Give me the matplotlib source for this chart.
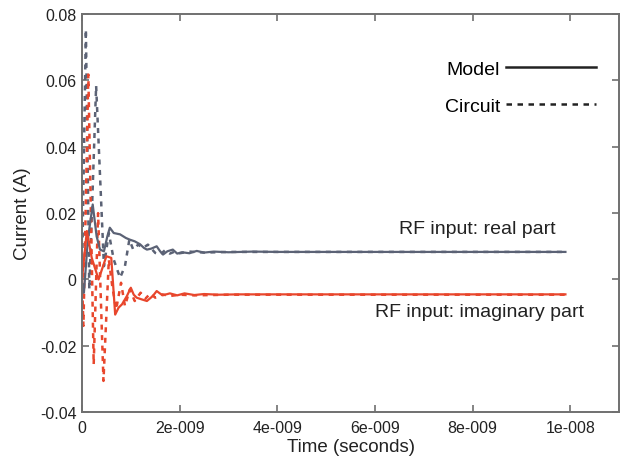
import numpy as np
import matplotlib
matplotlib.use("Agg")
import matplotlib.pyplot as plt

# time axis in ns, currents in A
t_model_real = [0.0, 0.04, 0.12, 0.22, 0.30, 0.37, 0.45, 0.52, 0.57, 0.65, 0.78, 0.90, 0.98, 1.08,
                1.19, 1.27, 1.33, 1.42, 1.53, 1.60, 1.66, 1.75, 1.86, 1.95, 2.05, 2.20, 2.35, 2.50,
                2.70, 3.00, 3.50, 4.00, 5.00, 6.00, 7.00, 8.00, 9.00, 9.90]
i_model_real = [-0.001, -0.004, 0.012, 0.0226, 0.013, 0.009, 0.0085, 0.013, 0.0156, 0.014, 0.0136,
                0.0125, 0.012, 0.0115, 0.0106, 0.0095, 0.009, 0.0093, 0.010, 0.0085, 0.0075, 0.0085,
                0.009, 0.0078, 0.0082, 0.0079, 0.0086, 0.0081, 0.0084, 0.0082, 0.0084, 0.0083,
                0.0083, 0.0083, 0.0083, 0.0083, 0.0083, 0.0083]

t_circ_real = [0.0, 0.08, 0.15, 0.29, 0.45, 0.55, 0.65, 0.78, 0.88, 0.97, 1.05, 1.15, 1.25, 1.35,
               1.50, 1.60, 1.70, 1.80, 1.90, 2.00, 2.20, 2.50, 3.00, 4.00, 6.00, 8.00, 9.90]
i_circ_real = [0.0, 0.0754, -0.003, 0.0584, 0.004, 0.014, 0.006, 0.0005, 0.004, 0.012, 0.009,
               0.0105, 0.0095, 0.0105, 0.008, 0.0075, 0.0088, 0.0078, 0.0084, 0.0079, 0.0084,
               0.0081, 0.0083, 0.0083, 0.0083, 0.0083, 0.0083]

t_model_imag = [0.0, 0.10, 0.20, 0.34, 0.50, 0.60, 0.68, 0.75, 0.82, 0.92, 1.00, 1.06, 1.12, 1.22,
                1.33, 1.45, 1.53, 1.65, 1.80, 1.95, 2.10, 2.30, 2.50, 2.80, 3.20, 4.00, 6.00,
                8.00, 9.90]
i_model_imag = [0.0, 0.0146, 0.0065, 0.0, 0.007, 0.0065, -0.0106, -0.0085, -0.0075, -0.005,
                -0.0025, -0.0046, -0.0055, -0.006, -0.0065, -0.005, -0.0035, -0.0048, -0.0042,
                -0.0048, -0.0042, -0.0047, -0.0044, -0.0046, -0.0045, -0.0045, -0.0045,
                -0.0045, -0.0045]

t_circ_imag = [0.0, 0.03, 0.13, 0.24, 0.33, 0.44, 0.55, 0.62, 0.70, 0.80, 0.88, 0.98, 1.08, 1.20,
               1.30, 1.40, 1.50, 1.65, 1.80, 2.00, 2.30, 3.00, 4.00, 6.00, 8.00, 9.90]
i_circ_imag = [0.0, -0.014, 0.0618, -0.0256, 0.02, -0.0306, 0.006, -0.002, -0.009, -0.001,
               -0.008, -0.003, -0.0065, -0.004, -0.0058, -0.0042, -0.0055, -0.0045, -0.005,
               -0.0046, -0.0048, -0.0046, -0.0046, -0.0046, -0.0046, -0.0046]

x_ticks = [0, 2e-9, 4e-9, 6e-9, 8e-9, 1e-8]
x_labels = ["0", "2e-009", "4e-009", "6e-009", "8e-009", "1e-008"]
y_ticks = [-0.04, -0.02, 0, 0.02, 0.04, 0.06, 0.08]
y_labels = ["-0.04", "-0.02", "0", "0.02", "0.04", "0.06", "0.08"]

gray = "#5b6275"
red = "#e8462c"

plt.rcParams["font.family"] = ["Liberation Sans", "DejaVu Sans"]

fig = plt.figure(figsize=(6.21, 4.6), dpi=100)
ax = fig.add_axes([0.132, 0.102, 0.865, 0.865])

ns = 1e-9
ax.plot(np.array(t_circ_real) * ns, i_circ_real, color=gray, lw=1.8, ls=(0, (2, 2.2)))
ax.plot(np.array(t_circ_imag) * ns, i_circ_imag, color=red, lw=1.8, ls=(0, (2, 2.2)))
ax.plot(np.array(t_model_real) * ns, i_model_real, color=gray, lw=1.6)
ax.plot(np.array(t_model_imag) * ns, i_model_imag, color=red, lw=1.6)

# legend-like key in black
h1, = ax.plot([], [], color="#222222", lw=1.8, label="Model")
h2, = ax.plot([], [], color="#222222", lw=1.8, ls=(0, (2.2, 2.2)), label="Circuit")
ax.legend(handles=[h1, h2], loc="upper right", bbox_to_anchor=(0.956, 0.885),
          frameon=False, markerfirst=False, fontsize=14, handlelength=4.6,
          handletextpad=0.3, labelspacing=1.0, borderpad=0, borderaxespad=0)

ax.text(8.1e-9, 0.0155, "RF input: real part", fontsize=14, ha="center", va="center", color="#222222")
ax.text(8.15e-9, -0.0098, "RF input: imaginary part", fontsize=14, ha="center", va="center", color="#222222")

ax.set_xlim(0, 1.1e-8)
ax.set_ylim(-0.04, 0.08)
ax.set_xticks(x_ticks)
ax.set_xticklabels(x_labels)
ax.set_yticks(y_ticks)
ax.set_yticklabels(y_labels)
ax.tick_params(direction="in", length=5, width=1.2, color="#707070", labelsize=11.5,
               top=True, right=True, labelcolor="#222222")
ax.tick_params(axis="x", pad=6)
ax.tick_params(axis="y", pad=4)
for s in ax.spines.values():
    s.set_color("#707070")
    s.set_linewidth(1.4)

ax.set_xlabel("Time (seconds)", fontsize=13.5, color="#222222", labelpad=2)
ax.set_ylabel("Current (A)", fontsize=13.5, color="#222222", labelpad=6)

fig.savefig("out.png", dpi=100)
